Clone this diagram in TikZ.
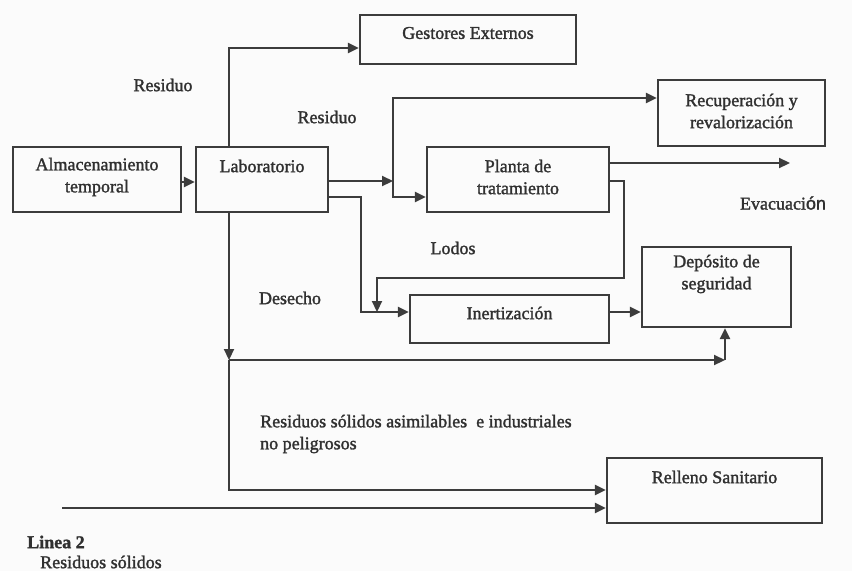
\documentclass[tikz,border=0pt]{standalone}
\usepackage{fontspec}
\setmainfont{Liberation Serif}[FakeBold=1.6]
\newfontfamily\evsans{Liberation Sans}[FakeBold=1.6]
\usetikzlibrary{arrows.meta}
\definecolor{ink}{HTML}{3C3C3C}
\definecolor{txtc}{HTML}{303030}
\definecolor{paper}{HTML}{FBFBFB}
\tikzset{
  boxn/.style={draw=ink, line width=2.2pt, rectangle, inner sep=0pt},
  txt/.style={text=txtc, font=\fontsize{18}{22}\selectfont, align=center, inner sep=0pt},
  lbl/.style={text=txtc, font=\fontsize{18}{22}\selectfont, align=left, inner sep=0pt},
  arr/.style={draw=ink, line width=2.2pt, -{Triangle[length=11pt,width=10pt]}},
  arr2/.style={draw=ink, line width=2.2pt, {Triangle[length=11pt,width=10pt]}-{Triangle[length=11pt,width=10pt]}},
  ln/.style={draw=ink, line width=2.2pt}
}
\begin{document}
\begin{tikzpicture}[x=1pt,y=-1pt]
\fill[paper] (0,0) rectangle (852,571);
\useasboundingbox (0,0) rectangle (852,571);
% boxes
\node[boxn, minimum width=168pt, minimum height=65pt] (alm) at (97,179.5) {};
\node[boxn, minimum width=132pt, minimum height=65pt] (lab) at (262,179.5) {};
\node[boxn, minimum width=216pt, minimum height=49pt] (ges) at (468,39.5) {};
\node[boxn, minimum width=167pt, minimum height=66pt] (rec) at (741.5,113) {};
\node[boxn, minimum width=182pt, minimum height=65pt] (pla) at (518,179.5) {};
\node[boxn, minimum width=149pt, minimum height=80pt] (dep) at (716.5,287) {};
\node[boxn, minimum width=199pt, minimum height=48pt] (ine) at (509.5,319) {};
\node[boxn, minimum width=215pt, minimum height=65pt] (rel) at (714.5,490.5) {};
% box texts
\node[txt] (almt) at (97,177) {Almacenamiento\\temporal};
\node[txt] (labt) at (262,166) {Laboratorio};
\node[txt] (gest) at (468,33) {Gestores Externos};
\node[txt] (rect) at (741.5,111) {Recuperación y\\revalorización};
\node[txt] (plat) at (518,177) {Planta de\\tratamiento};
\node[txt] (dept) at (716.5,274) {Depósito de\\seguridad};
\node[txt] (inet) at (509.5,313) {Inertización};
\node[txt] (relt) at (714.5,477) {Relleno Sanitario};
% free labels
\node[lbl] (res1) at (163,85) {Residuo};
\node[lbl] (res2) at (327,117) {Residuo};
\node[lbl] (lod) at (453,248) {Lodos};
\node[lbl] (des) at (290,298) {Desecho};
\node[lbl] (eva) at (783,203) {Evacuaci{\evsans ón}};
\node[lbl, anchor=west] (rsa) at (260,434) {Residuos sólidos asimilables\ \ e industriales\\no peligrosos};
\node[lbl, anchor=west, font=\fontsize{18}{22}\selectfont\bfseries] (lin) at (27,542) {Linea 2};
\node[lbl, anchor=west] (rso) at (40,562) {Residuos sólidos};
% coordinates
\coordinate (j1) at (393,181);
\coordinate (j2) at (229,360);
\coordinate (j3) at (725,360);
\coordinate (evac) at (790,163);
\coordinate (src) at (62,508);
% connectors
\draw[arr] (alm.east |- 0,182) -- (lab.west |- 0,182);
\draw[arr] (lab.north -| j2) |- (ges.west |- 0,48);
\draw[arr] (lab.east |- j1) -- (j1);
\draw[arr2] (rec.west |- 0,98) -| (393,197) -- (pla.west |- 0,197);
\draw[arr] (lab.east |- 0,197) -| (361,312) -- (ine.west |- 0,312);
\draw[arr] (pla.east |- 0,181) -| (624,278) -| (377,312);
\draw[arr] (pla.east |- evac) -- (evac);
\draw[arr] (ine.east |- 0,312) -- (dep.west |- 0,312);
\draw[arr] (lab.south -| j2) -- (j2);
\draw[arr] (j2) -- (j3);
\draw[arr] (j3) -- (dep.south -| j3);
\draw[arr] (j2) |- (rel.west |- 0,490);
\draw[arr] (src) -- (rel.west |- src);
\end{tikzpicture}
\end{document}
